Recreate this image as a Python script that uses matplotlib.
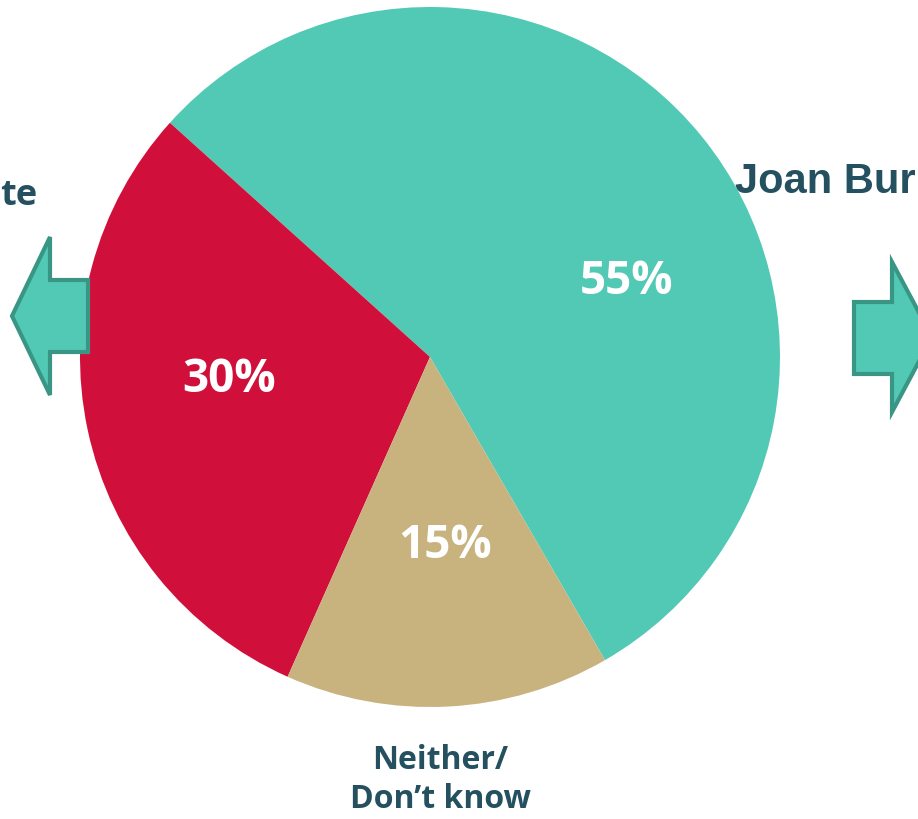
import matplotlib.pyplot as plt
from matplotlib.patches import Polygon

# slice data (counter-clockwise from the lower-right edge)
labels = ['Joan Bur', 'te', 'Neither/\nDon\u2019t know']
shares = [55, 30, 15]
colors = ['#52C9B4', '#D0103B', '#C8B37F']

text_dark = '#24505F'
arrow_fill = '#52C9B4'
arrow_edge = '#3A9684'

W, H = 918, 819
fig = plt.figure(figsize=(W / 100, H / 100), dpi=100)
ax = fig.add_axes([0, 0, 1, 1])

# pie laid out in pixel units (y measured from bottom)
ax.pie(shares, colors=colors, startangle=-60, counterclock=True,
       center=(430, H - 357), radius=350, frame=True,
       wedgeprops=dict(linewidth=0))
ax.set_xlim(0, W)
ax.set_ylim(0, H)
ax.set_aspect('equal')
ax.axis('off')

# percentage labels
pct_pos = [(627, 281), (229, 379), (445, 546)]
for v, (px, py) in zip(shares, pct_pos):
    ax.text(px, H - py, f'{v}%', color='white', fontsize=33,
            fontfamily='Open Sans', fontweight='bold',
            ha='center', va='center', zorder=5)

# category labels (the slide crops the side ones)
ax.text(0, H - 205, labels[1], color=text_dark, fontsize=26,
        fontfamily='Open Sans', fontweight='bold', ha='left', va='baseline')
ax.text(735, H - 193, labels[0], color=text_dark, fontsize=30,
        fontfamily='Liberation Sans', fontweight='bold', ha='left', va='baseline')
ax.text(440, H - 769, 'Neither/', color=text_dark, fontsize=23,
        fontfamily='Open Sans', fontweight='bold', ha='center', va='baseline')
ax.text(440, H - 808, 'Don\u2019t know', color=text_dark, fontsize=23,
        fontfamily='Open Sans', fontweight='bold', ha='center', va='baseline')

# arrows
left_arrow = [(12, 316), (50, 237), (50, 280), (88, 280),
              (88, 352), (50, 352), (50, 395)]
right_arrow = [(854, 302), (892, 302), (892, 262), (932, 337),
               (892, 412), (892, 374), (854, 374)]
for pts in (left_arrow, right_arrow):
    poly = Polygon([(x, H - y) for x, y in pts], closed=True,
                   facecolor=arrow_fill, edgecolor=arrow_edge,
                   linewidth=3, joinstyle='miter', zorder=4)
    ax.add_patch(poly)

fig.savefig('out.png', dpi=100)
